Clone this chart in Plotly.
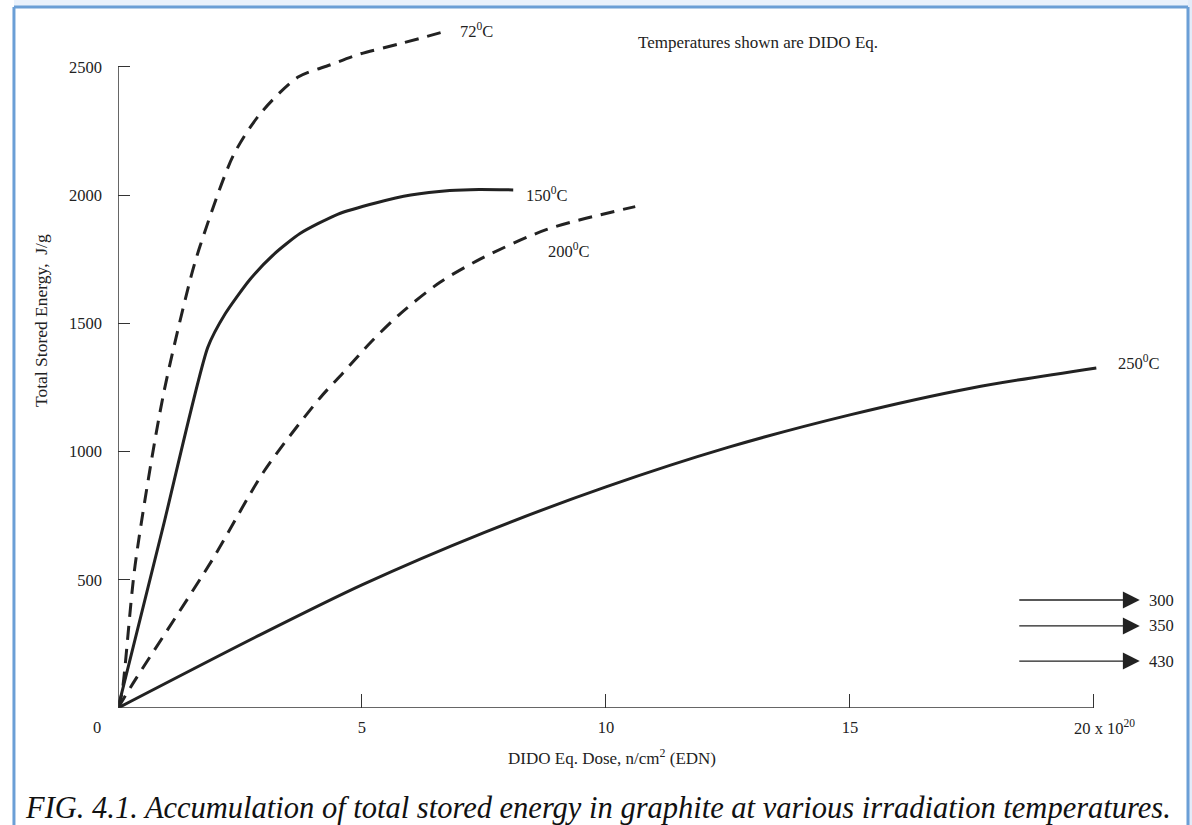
import plotly.graph_objects as go

# ---- data ----
x72 = [0, 0.08, 0.35, 0.92, 1.48, 1.68, 2.36, 2.91, 3.69, 4.34, 4.96, 5.78, 6.74]
y72 = [0, 58, 556, 1212, 1670, 1800, 2153, 2316, 2460, 2507, 2550, 2590, 2640]

x150 = [0, 0.92, 1.84, 2.2, 2.7, 3.2, 3.73, 4.5, 5.3, 6.0, 6.8, 7.4, 8.1]
y150 = [0, 703, 1406, 1538, 1670, 1770, 1850, 1925, 1970, 2000, 2018, 2022, 2020]

x200 = [0, 0.31, 1.93, 3.0, 4.14, 4.61, 5.2, 5.8, 6.6, 7.42, 8.79, 10.6]
y200 = [0, 97, 577, 925, 1209, 1306, 1430, 1540, 1660, 1750, 1866, 1955]

x250 = [0, 2.91, 5, 7.5, 10, 12.5, 15, 17.5, 20.05]
y250 = [0, 285, 480, 684, 862, 1016, 1143, 1248, 1326]

arrow_labels = ["300", "350", "430"]
arrow_levels = [421, 320, 183]
arrow_start, arrow_end = 18.44, 20.94

xticks = [5, 10, 15, 20]
xticktext = ["5", "10", "15", ""]
yticks = [500, 1000, 1500, 2000, 2500]

curve_labels = [
    ("72<sup>0</sup>C", 6.97, 2640),
    ("150<sup>0</sup>C", 8.32, 2004),
    ("200<sup>0</sup>C", 8.77, 1782),
    ("250<sup>0</sup>C", 20.45, 1349),
]

FONT = "Liberation Serif"
INK = "#222222"
FS = 16.5

fig = go.Figure()
fig.add_trace(go.Scatter(x=x72, y=y72, mode="lines",
                         line=dict(color="#222", width=3, dash="14px,9px", shape="spline", smoothing=0.8)))
fig.add_trace(go.Scatter(x=x150, y=y150, mode="lines",
                         line=dict(color="#222", width=3, shape="spline", smoothing=0.6)))
fig.add_trace(go.Scatter(x=x200, y=y200, mode="lines",
                         line=dict(color="#222", width=3, dash="14px,9px", shape="spline", smoothing=0.8)))
fig.add_trace(go.Scatter(x=x250, y=y250, mode="lines",
                         line=dict(color="#222", width=3, shape="spline", smoothing=0.8)))

ann = []
for t, x, y in curve_labels:
    ann.append(dict(x=x, y=y, text=t, showarrow=False, xanchor="left", yanchor="middle",
                    font=dict(family=FONT, size=FS, color=INK)))
for lab, lv in zip(arrow_labels, arrow_levels):
    ann.append(dict(x=arrow_end, y=lv, ax=arrow_start, ay=lv, axref="x", ayref="y",
                    xref="x", yref="y", text="", showarrow=True, arrowhead=2, arrowsize=2.6,
                    arrowwidth=1.3, arrowcolor="#222", standoff=0, startstandoff=0))
    ann.append(dict(x=21.09, y=lv, text=lab, showarrow=False, xanchor="left", yanchor="middle",
                    font=dict(family=FONT, size=FS, color=INK)))

ann += [
    dict(x=13.11, y=2593, text="Temperatures shown are DIDO Eq.", showarrow=False,
         xanchor="center", yanchor="middle", font=dict(family=FONT, size=17, color=INK)),
    dict(x=0, y=0, xshift=-21, yshift=-19, text="0", showarrow=False,
         font=dict(family=FONT, size=FS, color=INK)),
    dict(x=20, y=0, xshift=11, yshift=-19, text="20 x 10<sup>20</sup>", showarrow=False,
         font=dict(family=FONT, size=FS, color=INK)),
    dict(xref="paper", yref="paper", x=0.4696, y=-0.0717, xanchor="center", yanchor="middle",
         text="DIDO Eq. Dose, n/cm<sup>2</sup> (EDN)",
         showarrow=False, font=dict(family=FONT, size=17, color=INK)),
    dict(xref="paper", yref="paper", x=-0.0732, y=0.568, xanchor="center", yanchor="middle",
         text="Total Stored Energy,  J/g",
         textangle=-90, showarrow=False, font=dict(family=FONT, size=17.5, color=INK)),
    dict(xref="paper", yref="paper", x=0.456, y=-0.1464, xanchor="center", yanchor="middle",
         text="<i>FIG. 4.1. Accumulation of total stored energy in graphite at various irradiation temperatures.</i>",
         showarrow=False, font=dict(family=FONT, size=30.5, color="#111")),
]

shapes = [
    # axis lines
    dict(type="line", xref="x", yref="y", x0=0, y0=0, x1=0, y1=2500, line=dict(color="#333", width=1.5)),
    dict(type="line", xref="x", yref="y", x0=0, y0=0, x1=20, y1=0, line=dict(color="#333", width=1.5)),
    # light band above frame
    dict(type="rect", xref="paper", yref="paper", x0=-0.0989, x1=1.07, y0=1.0264, y1=1.04,
         fillcolor="#eaf2fc", line=dict(width=0), layer="below"),
    dict(type="rect", xref="paper", yref="paper", x0=1.0171, x1=1.07, y0=-0.2, y1=1.04,
         fillcolor="#e2ecf9", line=dict(width=0), layer="below"),
    # frame lines
    dict(type="line", xref="paper", yref="paper", x0=-0.0989, x1=-0.0989, y0=-0.2, y1=1.0264,
         line=dict(color="#6b9fd6", width=3)),
    dict(type="line", xref="paper", yref="paper", x0=-0.0989, x1=1.0171, y0=1.0264, y1=1.0264,
         line=dict(color="#6b9fd6", width=3)),
    dict(type="line", xref="paper", yref="paper", x0=1.0171, x1=1.0171, y0=-0.2, y1=1.0264,
         line=dict(color="#6b9fd6", width=3)),
]

fig.update_layout(
    width=1192, height=825,
    margin=dict(l=118, r=22, t=25, b=117),
    paper_bgcolor="white", plot_bgcolor="white",
    showlegend=False,
    annotations=ann, shapes=shapes,
    xaxis=dict(range=[0, 21.56], showgrid=False, zeroline=False, showline=False,
               tickmode="array", tickvals=xticks, ticktext=xticktext,
               ticks="inside", ticklen=14, tickwidth=1.3, tickcolor="#333",
               ticklabelstandoff=7,
               tickfont=dict(family=FONT, size=FS, color=INK)),
    yaxis=dict(range=[0, 2663], showgrid=False, zeroline=False, showline=False,
               tickmode="array", tickvals=yticks,
               ticks="inside", ticklen=12, tickwidth=1.3, tickcolor="#333",
               ticklabelstandoff=15,
               tickfont=dict(family=FONT, size=FS, color=INK)),
)

fig.write_html("out.html")
